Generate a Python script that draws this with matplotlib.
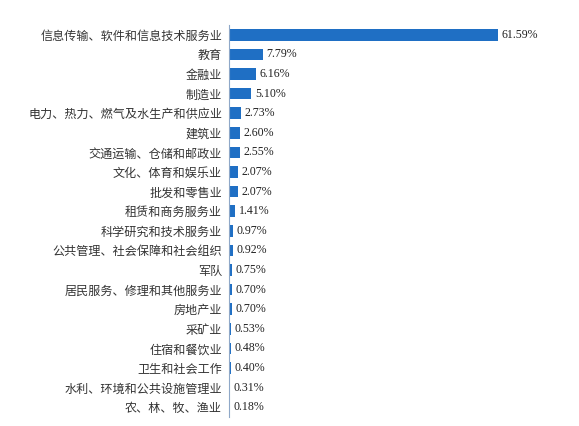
import matplotlib
matplotlib.use("Agg")
import matplotlib.pyplot as plt

categories = ["信息传输、软件和信息技术服务业","教育","金融业","制造业","电力、热力、燃气及水生产和供应业",
"建筑业","交通运输、仓储和邮政业","文化、体育和娱乐业","批发和零售业","租赁和商务服务业",
"科学研究和技术服务业","公共管理、社会保障和社会组织","军队","居民服务、修理和其他服务业","房地产业",
"采矿业","住宿和餐饮业","卫生和社会工作","水利、环境和公共设施管理业","农、林、牧、渔业"]
values = [61.59,7.79,6.16,5.10,2.73,2.60,2.55,2.07,2.07,1.41,0.97,0.92,0.75,0.70,0.70,0.53,0.48,0.40,0.31,0.18]

fig = plt.figure(figsize=(5.79,4.26), dpi=100)
ax = fig.add_axes([229/579, 9/426, 333/579, 392/426])
y = list(range(len(categories)))
ax.barh(y, values, height=0.6, color="#1f6fc4")
ax.set_ylim(len(categories)-0.5, -0.5)
ax.set_xlim(0, 76.2)
ax.set_yticks(y)
ax.set_yticklabels(categories, family=["Noto Sans CJK SC","DejaVu Sans"], fontsize=8.7, color="#333333")
ax.tick_params(axis="y", length=0, pad=5)
ax.set_xticks([])
for s in ["top","right","bottom"]:
    ax.spines[s].set_visible(False)
ax.spines["left"].set_color("#8fa8c8")
for yi, v in zip(y, values):
    ax.text(v+0.8, yi, f"{v:.2f}%", va="center", ha="left", fontsize=8.6, family="Liberation Serif", color="#222222")
fig.savefig("out.png", dpi=100)
